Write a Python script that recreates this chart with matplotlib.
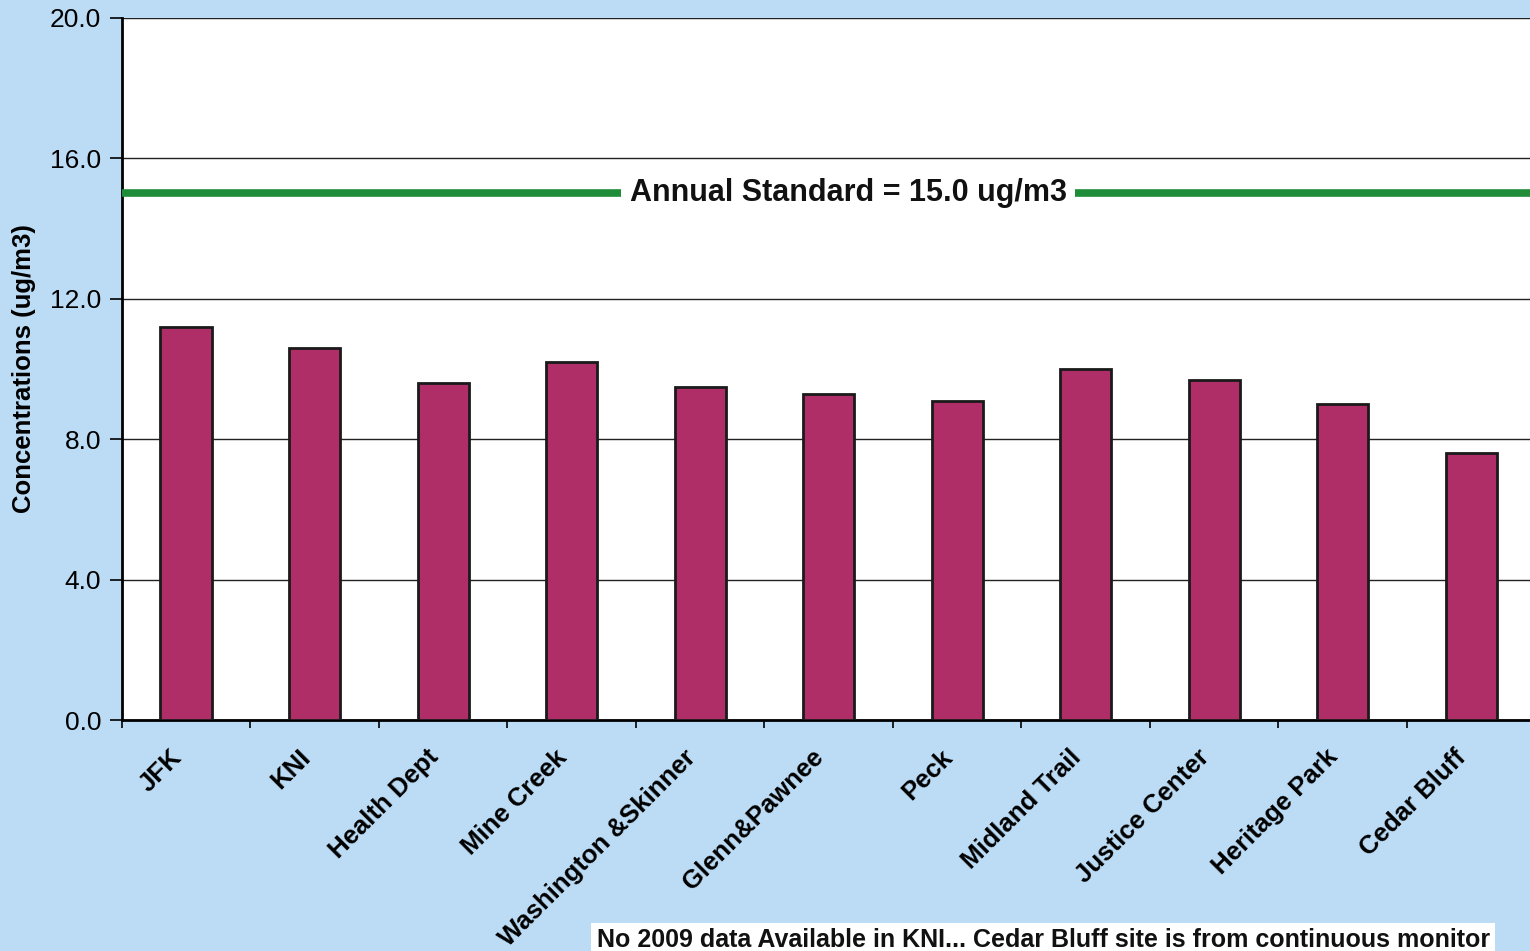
import numpy as np
import matplotlib.pyplot as plt
from matplotlib.transforms import ScaledTranslation

# data
sites = ["JFK", "KNI", "Health Dept", "Mine Creek", "Washington &Skinner",
         "Glenn&Pawnee", "Peck", "Midland Trail", "Justice Center",
         "Heritage Park", "Cedar Bluff"]
conc = [11.2, 10.6, 9.6, 10.2, 9.5, 9.3, 9.1, 10.0, 9.7, 9.0, 7.6]
standard = 15.0
yticks = [0.0, 4.0, 8.0, 12.0, 16.0, 20.0]

plt.rcParams['font.family'] = ['Liberation Sans', 'DejaVu Sans']

bg = "#bcdcf5"
fig = plt.figure(figsize=(15.3, 9.51), dpi=100, facecolor=bg)
ax = fig.add_axes([0.0797, 0.2429, 0.9239, 0.7382])
ax.set_facecolor("white")

x = np.arange(len(sites))
ax.bar(x, conc, width=0.4, color="#b02e68", edgecolor="#1a1a1a", linewidth=2, zorder=3)

# annual standard line
ax.axhline(standard, color="#1f8c38", linewidth=5.5, zorder=4)
ax.text(5.15, standard, "Annual Standard = 15.0 ug/m3", ha="center", va="center",
        fontsize=22, fontweight="bold", color="#111111", zorder=5,
        bbox=dict(facecolor="white", edgecolor="none", pad=6))

ax.set_xlim(-0.5, len(sites) - 0.5)
ax.set_ylim(0, 20)
ax.set_yticks(yticks)
ax.set_yticklabels([f"{v:.1f}" for v in yticks], fontsize=19)
ax.yaxis.grid(True, color="#222222", linewidth=1)
ax.set_axisbelow(True)

ax.set_xticks(x)
ax.set_xticklabels(sites, rotation=45, ha="right", rotation_mode="anchor",
                   fontsize=18.5, fontweight="bold")
ax.tick_params(axis="x", which="major", length=0, pad=18)
# nudge the rotated labels a little to the left, as in the original
shift = ScaledTranslation(-0.17, 0, fig.dpi_scale_trans)
for lab in ax.get_xticklabels():
    lab.set_transform(lab.get_transform() + shift)
ax.set_xticks(np.arange(-0.5, len(sites), 1.0), minor=True)
ax.tick_params(axis="x", which="minor", length=6, width=1.2, direction="out")
ax.tick_params(axis="y", length=9, width=1.2, direction="out", pad=6)

for s in ["top", "right"]:
    ax.spines[s].set_visible(False)
ax.spines["left"].set_linewidth(2)
ax.spines["bottom"].set_linewidth(2)

ax.set_ylabel("Concentrations (ug/m3)", fontsize=18.5, fontweight="bold", labelpad=10)

# note box at the bottom edge
fig.text(0.39, 0.004, "No 2009 data Available in KNI... Cedar Bluff site is from continuous monitor",
         ha="left", va="baseline", fontsize=18, fontweight="bold", color="#111111",
         bbox=dict(facecolor="white", edgecolor="none", pad=4))

fig.savefig("out.png", dpi=100, facecolor=bg)
